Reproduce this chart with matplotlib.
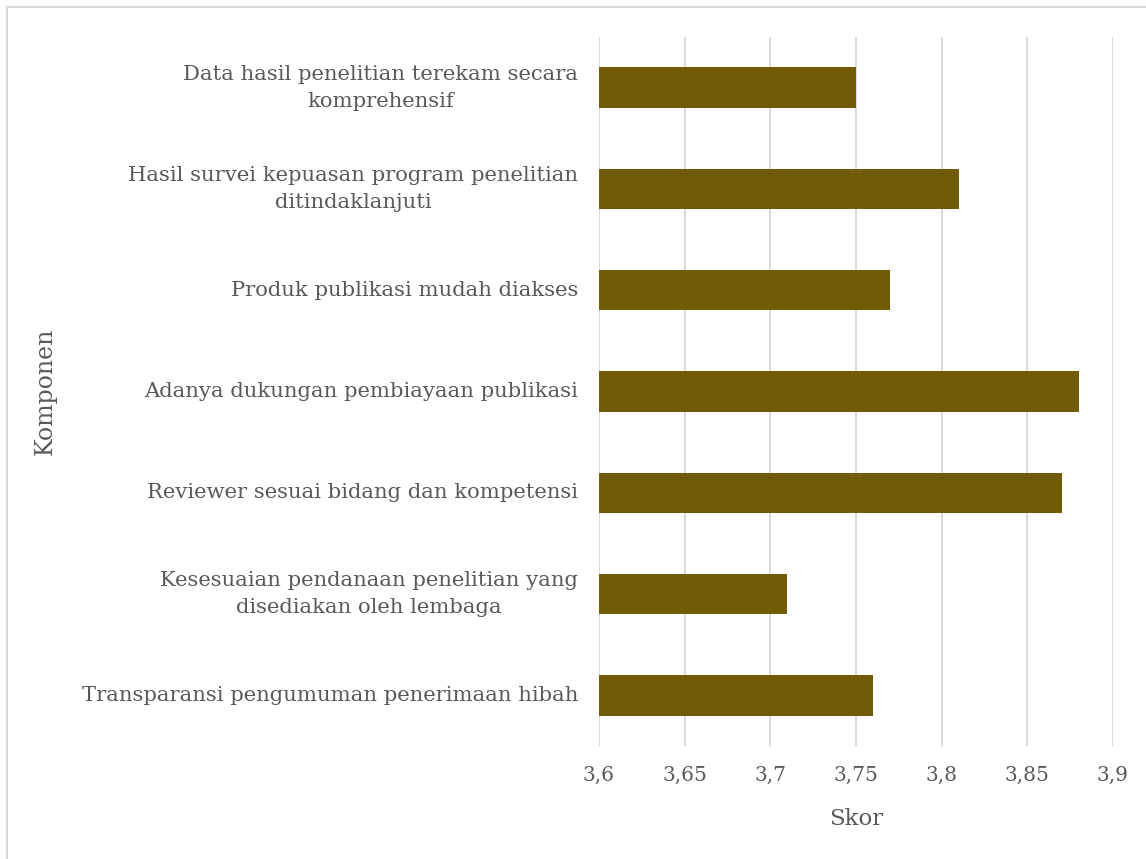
import matplotlib
matplotlib.use("Agg")
import matplotlib.pyplot as plt
from matplotlib.lines import Line2D

categories = [
    "Transparansi pengumuman penerimaan hibah",
    "Kesesuaian pendanaan penelitian yang\ndisediakan oleh lembaga",
    "Reviewer sesuai bidang dan kompetensi",
    "Adanya dukungan pembiayaan publikasi",
    "Produk publikasi mudah diakses",
    "Hasil survei kepuasan program penelitian\nditindaklanjuti",
    "Data hasil penelitian terekam secara\nkomprehensif",
]
scores = [3.76, 3.71, 3.87, 3.88, 3.77, 3.81, 3.75]
xticks = [3.6, 3.65, 3.7, 3.75, 3.8, 3.85, 3.9]
xtick_labels = ["3,6", "3,65", "3,7", "3,75", "3,8", "3,85", "3,9"]

plt.rcParams['font.family'] = ['DejaVu Serif']
text_color = "#595959"

fig = plt.figure(figsize=(11.46, 8.59), dpi=100)
ax = fig.add_axes([599/1146, 1-746/859, (1113-599)/1146, (746-37)/859])

ypos = list(range(len(categories)))
ax.barh(ypos, [s - 3.6 for s in scores], left=3.6, height=0.4, color="#725B07", zorder=3)

ax.set_xlim(3.6, 3.9)
ax.set_ylim(-0.5, len(categories) - 0.5)
ax.set_xticks(xticks)
ax.set_xticklabels(xtick_labels, fontsize=14.5, color=text_color)
ax.set_yticks(ypos)
ax.set_yticklabels(categories, fontsize=15.2, color=text_color, ha="right", va="center",
                   multialignment="center", linespacing=1.55)
ax.tick_params(axis="both", length=0)
ax.tick_params(axis="y", pad=15)
ax.tick_params(axis="x", pad=14)
ax.grid(axis="x", color="#d9d9d9", linewidth=1.4, zorder=0)
for s in ax.spines.values():
    s.set_visible(False)

ax.set_xlabel("Skor", fontsize=16.5, color=text_color, labelpad=17)
fig.text(45/1146, 1-391/859, "Komponen", rotation=90, fontsize=17,
         color=text_color, ha="center", va="center")

fig.add_artist(Line2D([7/1146, 1], [1-7/859, 1-7/859], color="#d9d9d9", linewidth=1.5,
                      transform=fig.transFigure))
fig.add_artist(Line2D([7/1146, 7/1146], [0, 1-7/859], color="#d9d9d9", linewidth=1.5,
                      transform=fig.transFigure))

fig.savefig("out.png", dpi=100)
